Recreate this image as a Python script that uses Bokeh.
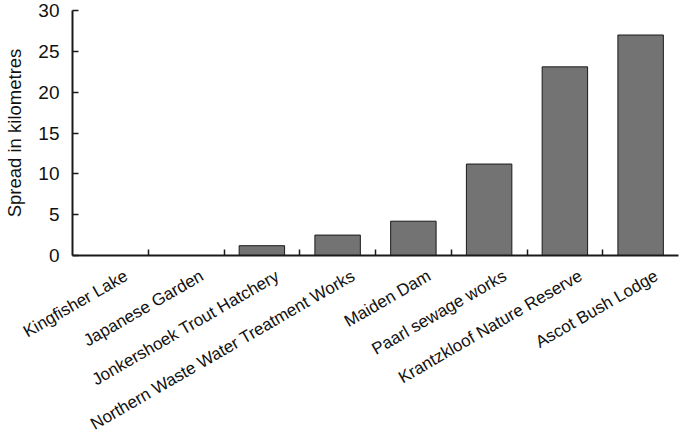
import math
from bokeh.plotting import figure
from bokeh.models import FixedTicker, Range1d, LinearAxis
from bokeh.embed import file_html
from bokeh.resources import INLINE

sites = ["Kingfisher Lake", "Japanese Garden", "Jonkershoek Trout Hatchery",
         "Northern Waste Water Treatment Works", "Maiden Dam", "Paarl sewage works",
         "Krantzkloof Nature Reserve", "Ascot Bush Lodge"]
spread_km = [0, 0, 1.2, 2.5, 4.2, 11.2, 23.1, 27.0]
y_ticks = [0, 5, 10, 15, 20, 25, 30]

n = len(sites)
positions = list(range(1, n + 1))
boundaries = [i + 0.5 for i in range(1, n)]

FONT = "Liberation Sans"
INK = "#1a1a1a"
TXT = "#111111"
LABEL_SHIFT = 0.21  # category labels sit slightly right of the bar centres

p = figure(width=685, height=444, output_backend="svg", toolbar_location=None,
           x_range=Range1d(0.5, n + 0.5), y_range=Range1d(0, 30),
           min_border_left=72, min_border_right=7, min_border_top=10,
           min_border_bottom=150)
p.outline_line_color = None
p.xgrid.visible = False
p.ygrid.visible = False
p.extra_x_ranges = {"labels": Range1d(0.5 - LABEL_SHIFT, n + 0.5 - LABEL_SHIFT)}

p.vbar(x=positions, top=spread_km, bottom=0, width=0.6,
       fill_color="#737373", line_color=INK, line_width=1)

xa = p.xaxis[0]
xa.ticker = FixedTicker(ticks=[], minor_ticks=boundaries)
xa.major_tick_in = 0
xa.major_tick_out = 0
xa.minor_tick_in = 6
xa.minor_tick_out = 0
xa.minor_tick_line_width = 1.5
xa.minor_tick_line_color = INK
xa.axis_line_width = 2
xa.axis_line_color = INK

lab_axis = LinearAxis(x_range_name="labels", ticker=FixedTicker(ticks=positions))
lab_axis.major_label_overrides = {pos: name for pos, name in zip(positions, sites)}
lab_axis.major_label_orientation = math.pi / 6
lab_axis.axis_line_color = None
lab_axis.major_tick_line_color = None
lab_axis.minor_tick_line_color = None
lab_axis.major_tick_in = 0
lab_axis.major_tick_out = 0
lab_axis.minor_tick_in = 0
lab_axis.minor_tick_out = 0
lab_axis.major_label_standoff = 19
lab_axis.major_label_text_font = FONT
lab_axis.major_label_text_font_size = "17px"
lab_axis.major_label_text_color = TXT
p.add_layout(lab_axis, "below")

ya = p.yaxis[0]
ya.ticker = FixedTicker(ticks=y_ticks)
ya.major_tick_in = 6
ya.major_tick_out = 0
ya.minor_tick_in = 0
ya.minor_tick_out = 0
ya.major_tick_line_width = 1.5
ya.major_tick_line_color = INK
ya.axis_line_width = 2
ya.axis_line_color = INK
ya.major_label_text_font = FONT
ya.major_label_text_font_size = "19px"
ya.major_label_text_color = TXT
ya.major_label_standoff = 13
ya.axis_label = "Spread in kilometres"
ya.axis_label_text_font = FONT
ya.axis_label_text_font_size = "18.5px"
ya.axis_label_text_font_style = "normal"
ya.axis_label_text_color = TXT
ya.axis_label_standoff = 10

open("out.html", "w").write(file_html(p, INLINE))
